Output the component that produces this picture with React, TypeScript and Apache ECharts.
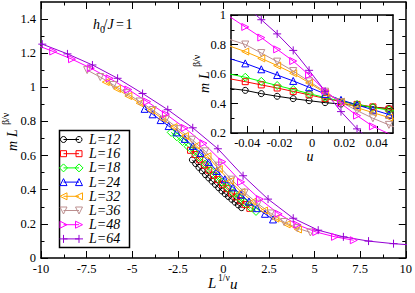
import React, { useEffect, useRef } from 'react';
import * as echarts from 'echarts';

// ---------- data ----------
const seriesNames = ['L=12', 'L=16', 'L=18', 'L=24', 'L=32', 'L=36', 'L=48', 'L=64'];
const seriesColors = ['#000000', '#ff0000', '#00ff00', '#0000ff', '#ffa500', '#bc8f8f', '#ff00ff', '#9400d3'];

// main panel: x = L^{1/nu} u, y = m L^{beta/nu}
const l12X = [-1.70, -1.52, -1.34, -1.16, -0.98, -0.80, -0.62, -0.44, -0.26, -0.08, 0.10, 0.28, 0.46, 0.64, 0.82, 1.00];
const l12Y = [0.575, 0.553, 0.531, 0.510, 0.488, 0.469, 0.450, 0.431, 0.412, 0.393, 0.376, 0.360, 0.344, 0.327, 0.311, 0.295];
const l16X = [-1.80, -1.55, -1.30, -1.05, -0.80, -0.55, -0.30, -0.05, 0.20, 0.45, 0.70, 0.95, 1.20, 1.45];
const l16Y = [0.631, 0.606, 0.575, 0.545, 0.514, 0.485, 0.459, 0.432, 0.406, 0.381, 0.358, 0.336, 0.313, 0.291];
const l18X = [-2.86, -2.55, -2.24, -1.93, -1.62, -1.31, -1.00, -0.69, -0.38, -0.07, 0.24, 0.55, 0.86, 1.17, 1.48, 1.79];
const l18Y = [0.736, 0.710, 0.682, 0.652, 0.623, 0.589, 0.551, 0.513, 0.477, 0.445, 0.412, 0.381, 0.353, 0.325, 0.297, 0.273];
const l24X = [-4.32, -3.88, -3.44, -3.00, -2.56, -2.12, -1.68, -1.24, -0.80, -0.36, 0.08, 0.52, 0.96, 1.40, 1.84, 2.28, 2.72];
const l24Y = [0.874, 0.842, 0.808, 0.773, 0.736, 0.698, 0.657, 0.616, 0.563, 0.510, 0.461, 0.414, 0.371, 0.331, 0.292, 0.259, 0.226];
const l32X = [-6.45, -5.83, -5.21, -4.59, -3.97, -3.35, -2.73, -2.11, -1.49, -0.87, -0.25, 0.37, 0.99, 1.61, 2.23, 2.85, 3.47, 4.09];
const l32Y = [1.031, 0.991, 0.949, 0.907, 0.864, 0.817, 0.767, 0.715, 0.658, 0.596, 0.521, 0.451, 0.386, 0.330, 0.278, 0.231, 0.197, 0.167];
const l36X = [-7.47, -6.75, -6.03, -5.31, -4.59, -3.87, -3.15, -2.43, -1.71, -0.99, -0.27, 0.45, 1.17, 1.89, 2.61, 3.33, 4.05, 4.77];
const l36Y = [1.101, 1.060, 1.014, 0.966, 0.917, 0.867, 0.813, 0.755, 0.693, 0.625, 0.541, 0.459, 0.383, 0.318, 0.261, 0.211, 0.175, 0.150];
const l48X = [-10.36, -9.33, -8.30, -7.27, -6.24, -5.21, -4.18, -3.15, -2.12, -1.09, -0.06, 0.97, 2.00, 3.03, 4.06, 5.09, 6.12, 7.15];
const l48Y = [1.252, 1.210, 1.165, 1.112, 1.053, 0.987, 0.916, 0.843, 0.762, 0.672, 0.564, 0.446, 0.345, 0.259, 0.195, 0.152, 0.124, 0.104];
const l64X = [-11.30, -9.93, -8.55, -7.18, -5.80, -4.43, -3.05, -1.68, -0.30, 1.08, 2.45, 3.83, 5.20, 6.58, 7.96, 9.33, 10.70];
const l64Y = [1.308, 1.253, 1.196, 1.131, 1.053, 0.964, 0.869, 0.763, 0.640, 0.482, 0.345, 0.233, 0.163, 0.124, 0.099, 0.084, 0.073];

// inset: x = u, y = m L^{beta/nu}
const insetU = [-0.0510, -0.0412, -0.0313, -0.0215, -0.0116, -0.0018, 0.0081, 0.0179, 0.0278, 0.0376, 0.0475, 0.0573];
const inL12 = [0.502, 0.489, 0.467, 0.449, 0.433, 0.419, 0.406, 0.396, 0.386, 0.376, 0.366, 0.356];
const inL16 = [0.568, 0.548, 0.526, 0.505, 0.482, 0.459, 0.434, 0.413, 0.394, 0.377, 0.362, 0.347];
const inL18 = [0.600, 0.578, 0.550, 0.522, 0.495, 0.467, 0.440, 0.416, 0.394, 0.373, 0.355, 0.337];
const inL24 = [0.705, 0.672, 0.632, 0.593, 0.553, 0.510, 0.465, 0.425, 0.390, 0.358, 0.325, 0.292];
const inL32 = [0.790, 0.752, 0.706, 0.657, 0.605, 0.540, 0.472, 0.412, 0.372, 0.338, 0.305, 0.272];
const inL36 = [0.835, 0.800, 0.742, 0.684, 0.620, 0.550, 0.480, 0.410, 0.352, 0.300, 0.255, 0.215];
const inL48 = [0.990, 0.919, 0.847, 0.767, 0.688, 0.593, 0.487, 0.400, 0.318, 0.245, 0.195, 0.150];
const inL64 = [1.160, 1.065, 0.968, 0.872, 0.760, 0.625, 0.483, 0.345, 0.228, 0.135, 0.070, 0.020];

// ticks
const mainXTicks = [-10, -7.5, -5, -2.5, 0, 2.5, 5, 7.5, 10];
const mainXMinor = [-8.75, -6.25, -3.75, -1.25, 1.25, 3.75, 6.25, 8.75];
const mainYTicks = [0, 0.2, 0.4, 0.6, 0.8, 1, 1.2, 1.4];
const mainYMinor = [0.1, 0.3, 0.5, 0.7, 0.9, 1.1, 1.3];
const inXTicks = [-0.04, -0.02, 0, 0.02, 0.04];
const inXMinor = [-0.03, -0.01, 0.01, 0.03];
const inYTicks = [0.2, 0.4, 0.6, 0.8, 1];
const inYMinor = [0.3, 0.5, 0.7, 0.9];

const mainXs = [l12X, l16X, l18X, l24X, l32X, l36X, l48X, l64X];
const mainYs = [l12Y, l16Y, l18Y, l24Y, l32Y, l36Y, l48Y, l64Y];
const insetYs = [inL12, inL16, inL18, inL24, inL32, inL36, inL48, inL64];

const FONT = 'Liberation Serif';

const markerDefs = [
  { symbol: 'circle', size: 6, rotate: 0 },
  { symbol: 'rect', size: 6, rotate: 0 },
  { symbol: 'diamond', size: 8, rotate: 0 },
  { symbol: 'triangle', size: 7, rotate: 0 },
  { symbol: 'triangle', size: 7, rotate: 90 },
  { symbol: 'triangle', size: 7, rotate: 180 },
  { symbol: 'triangle', size: 7, rotate: -90 },
  { symbol: 'path://M0,5L10,5M5,0L5,10', size: 8, rotate: 0 },
];

const fmt = (v: number) => String(+Number(v).toFixed(4));

function makeAxes(dim: 'x' | 'y', gridIndex: number, min: number, max: number,
  major: number[], minor: number[], z: number, labelMargin: number) {
  const positions = dim === 'x' ? ['bottom', 'top'] : ['left', 'right'];
  const out: any[] = [];
  positions.forEach((p, pi) => {
    out.push({
      type: 'value', gridIndex, min, max, position: p, z,
      axisLine: { show: true, onZero: false, lineStyle: { color: '#000', width: 1.5 } },
      axisTick: { show: true, inside: true, length: 7, customValues: major, lineStyle: { color: '#000', width: 1 } },
      axisLabel: {
        show: pi === 0, customValues: major, formatter: fmt, margin: labelMargin,
        fontFamily: FONT, fontSize: 12.5, color: '#000',
      },
      splitLine: { show: false },
    });
    out.push({
      type: 'value', gridIndex, min, max, position: p, z,
      axisLine: { show: false, onZero: false },
      axisTick: { show: true, inside: true, length: 3.5, customValues: minor, lineStyle: { color: '#000', width: 1 } },
      axisLabel: { show: false },
      splitLine: { show: false },
    });
  });
  return out;
}

function legendSymbol(i: number, cx: number, cy: number, c: string): any[] {
  const st = { fill: 'none', stroke: c, lineWidth: 1 };
  const a = 3.5;
  switch (i) {
    case 0: return [{ type: 'circle', shape: { cx, cy, r: 3 }, style: st }];
    case 1: return [{ type: 'rect', shape: { x: cx - 3, y: cy - 3, width: 6, height: 6 }, style: st }];
    case 2: return [{ type: 'polygon', shape: { points: [[cx, cy - 4], [cx + 4, cy], [cx, cy + 4], [cx - 4, cy]] }, style: st }];
    case 3: return [{ type: 'polygon', shape: { points: [[cx, cy - a], [cx + a, cy + a], [cx - a, cy + a]] }, style: st }];
    case 4: return [{ type: 'polygon', shape: { points: [[cx - a, cy], [cx + a, cy - a], [cx + a, cy + a]] }, style: st }];
    case 5: return [{ type: 'polygon', shape: { points: [[cx, cy + a], [cx + a, cy - a], [cx - a, cy - a]] }, style: st }];
    case 6: return [{ type: 'polygon', shape: { points: [[cx + a, cy], [cx - a, cy - a], [cx - a, cy + a]] }, style: st }];
    default: return [
      { type: 'line', shape: { x1: cx - 4, y1: cy, x2: cx + 4, y2: cy }, style: { stroke: c, lineWidth: 1 } },
      { type: 'line', shape: { x1: cx, y1: cy - 4, x2: cx, y2: cy + 4 }, style: { stroke: c, lineWidth: 1 } },
    ];
  }
}

function txt(text: string, x: number, y: number, size: number, italic: boolean, align = 'left') {
  return {
    type: 'text', x, y,
    style: {
      text, font: `${italic ? 'italic ' : ''}${size}px ${FONT}`, fill: '#000',
      textAlign: align, align, textVerticalAlign: 'middle', verticalAlign: 'middle',
    },
  };
}

export default function App() {
  const ref = useRef<HTMLDivElement>(null);
  useEffect(() => {
    if (!ref.current) return;
    const chart = echarts.init(ref.current, undefined, { renderer: 'svg' });

    const xAxes = [
      ...makeAxes('x', 0, -10, 10, mainXTicks, mainXMinor, 0, 4),
      ...makeAxes('x', 1, -0.05, 0.05, inXTicks, inXMinor, 10, 3),
    ];
    const yAxes = [
      ...makeAxes('y', 0, 0, 1.5, mainYTicks, mainYMinor, 0, 5),
      ...makeAxes('y', 1, 0.2, 1.0, inYTicks, inYMinor, 10, 5),
    ];

    const series: any[] = [];
    seriesNames.forEach((name, i) => {
      const m = markerDefs[i];
      const c = seriesColors[i];
      const common = {
        type: 'line', name, symbol: m.symbol, symbolSize: m.size, symbolRotate: m.rotate,
        showAllSymbol: true, clip: true, silent: true,
        lineStyle: { color: c, width: 1 },
        itemStyle: { color: 'rgba(0,0,0,0)', borderColor: c, borderWidth: 1 },
      };
      series.push({
        ...common, xAxisIndex: 0, yAxisIndex: 0, z: 2,
        data: mainXs[i].map((x, k) => [x, mainYs[i][k]]),
      });
      series.push({
        ...common, xAxisIndex: 4, yAxisIndex: 4, z: 12,
        data: insetU.map((u, k) => [u, insetYs[i][k]]),
      });
    });

    const legendItems: any[] = [];
    legendItems.push({
      type: 'rect', shape: { x: 59.5, y: 130.5, width: 70, height: 117 },
      style: { fill: '#fff', stroke: '#000', lineWidth: 1.5 },
    });
    seriesNames.forEach((name, i) => {
      const cy = 139.5 + 14.2 * i;
      const c = seriesColors[i];
      legendItems.push({ type: 'line', shape: { x1: 63.5, y1: cy, x2: 79, y2: cy }, style: { stroke: c, lineWidth: 1 } });
      legendItems.push(...legendSymbol(i, 63.5, cy, c));
      legendItems.push(...legendSymbol(i, 79, cy, c));
      legendItems.push(txt(name, 89, cy, 14, true));
    });

    const graphics: any[] = [
      { type: 'group', z: 30, children: legendItems },
      // annotation h0/J=1
      {
        type: 'group', z: 30, children: [
          txt('h', 93, 24.5, 14, true),
          txt('0', 100, 29, 10, false),
          txt('/', 103.5, 24.5, 14, false),
          txt('J', 107.5, 24.5, 14, true),
          txt('=', 116, 24.5, 14, false),
          txt('1', 125.5, 24.5, 14, false),
        ],
      },
      // main x title
      {
        type: 'group', z: 30, children: [
          txt('L', 208, 283, 15, true),
          txt('1/ν', 218, 278, 9.5, false),
          txt('u', 230, 284, 15, true),
        ],
      },
      // inset x title
      { type: 'group', z: 30, children: [txt('u', 310, 156, 14, true, 'center')] },
      // main y title
      {
        type: 'group', z: 30, x: 12.5, y: 151, rotation: Math.PI / 2, children: [
          txt('m', 0, 0, 14, true),
          txt('L', 14, 0, 14, true),
          txt('β/ν', 26, -7.5, 10, false),
        ],
      },
      // inset y title
      {
        type: 'group', z: 30, x: 204, y: 93, rotation: Math.PI / 2, children: [
          txt('m', 0, 0, 14, true),
          txt('L', 14, 0, 14, true),
          txt('β/ν', 26, -7.5, 10, false),
        ],
      },
    ];

    chart.setOption({
      animation: false,
      backgroundColor: '#fff',
      grid: [
        { left: 41, top: 2, width: 366, height: 256, show: true, backgroundColor: '#fff', borderWidth: 0, z: 0 },
        { left: 231, top: 15, width: 162, height: 118, show: true, backgroundColor: '#fff', borderWidth: 0, z: 8 },
      ],
      xAxis: xAxes,
      yAxis: yAxes,
      series,
      graphic: graphics,
    });
    return () => chart.dispose();
  }, []);
  return <div ref={ref} style={{ position: 'fixed', left: 0, top: 0, width: 415, height: 293 }} />;
}
